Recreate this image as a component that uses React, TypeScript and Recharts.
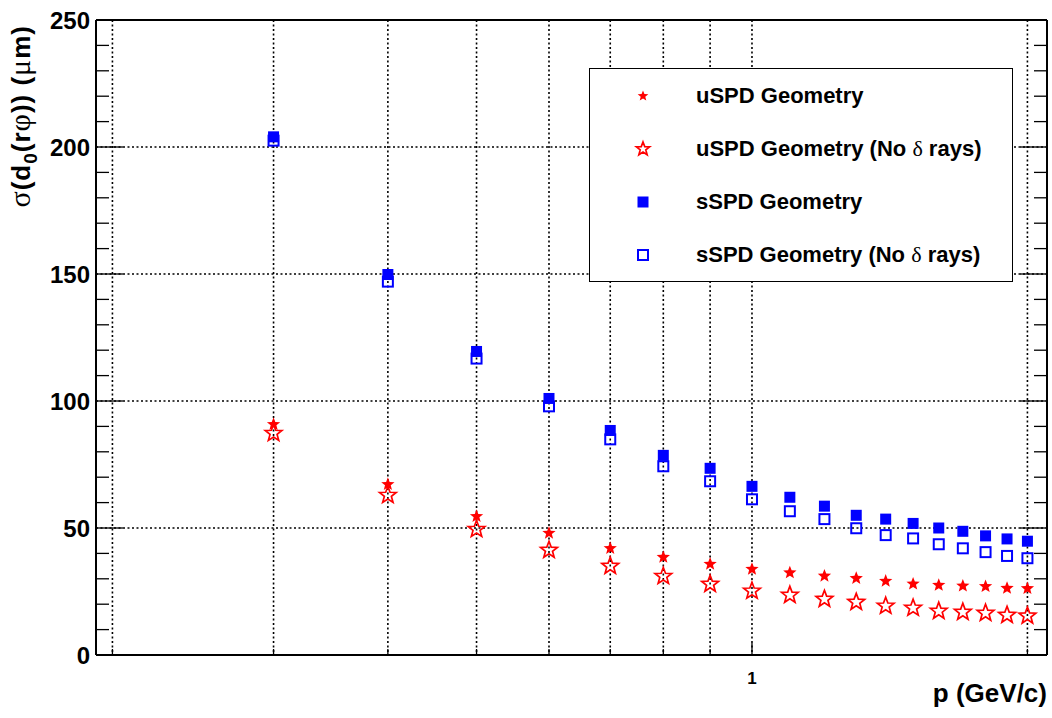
import React from 'react';
import { ScatterChart, Scatter, XAxis, YAxis, CartesianGrid, Legend } from 'recharts';

// momentum bins (GeV/c)
const momentum = [0.3, 0.4, 0.5, 0.6, 0.7, 0.8, 0.9, 1.0, 1.1, 1.2, 1.3, 1.4, 1.5, 1.6, 1.7, 1.8, 1.9, 2.0];

// sigma(d0) in microns
const uspdGeometry = [90.8, 67.2, 54.6, 48.0, 42.0, 38.5, 35.8, 33.8, 32.4, 31.1, 30.2, 29.1, 28.0, 27.5, 27.2, 27.0, 26.3, 26.2];
const uspdNoDelta = [87.3, 62.9, 49.5, 41.3, 35.0, 31.0, 27.9, 25.2, 23.6, 22.0, 20.8, 19.3, 18.5, 17.3, 16.9, 16.5, 15.7, 15.4];
const sspdGeometry = [204.0, 149.8, 119.5, 101.0, 88.4, 78.6, 73.5, 66.4, 62.1, 58.6, 55.0, 53.5, 51.8, 50.0, 48.7, 46.9, 45.7, 44.8];
const sspdNoDelta = [202.5, 147.0, 116.7, 97.9, 84.9, 74.3, 68.4, 61.3, 56.6, 53.5, 49.9, 47.2, 45.9, 43.6, 42.0, 40.5, 39.0, 38.1];

const yTicks = [0, 10, 20, 30, 40, 50, 60, 70, 80, 90, 100, 110, 120, 130, 140, 150, 160, 170, 180, 190, 200, 210, 220, 230, 240, 250];
const yGridValues = [50, 100, 150, 200];
const xTicks = [0.2, 0.3, 0.4, 0.5, 0.6, 0.7, 0.8, 0.9, 1, 2];
const xLabelled = [1];

const RED = '#ff0000';
const BLUE = '#0000ff';
const FONT = '"Liberation Sans", Arial, Helvetica, sans-serif';
const SYMBOL_FONT = '"Liberation Serif", "DejaVu Serif", serif';

type MarkerKind = 'star' | 'openStar' | 'square' | 'openSquare';

const series: { name: string; values: number[]; marker: MarkerKind }[] = [
  { name: 'uSPD Geometry', values: uspdGeometry, marker: 'star' },
  { name: 'uSPD Geometry (No δ rays)', values: uspdNoDelta, marker: 'openStar' },
  { name: 'sSPD Geometry', values: sspdGeometry, marker: 'square' },
  { name: 'sSPD Geometry (No δ rays)', values: sspdNoDelta, marker: 'openSquare' },
];

const toPoints = (values: number[]) => momentum.map((p, i) => ({ p, v: values[i] }));

function starPath(cx: number, cy: number, outer: number, inner: number) {
  const pts: string[] = [];
  for (let k = 0; k < 10; k++) {
    const r = k % 2 === 0 ? outer : inner;
    const a = -Math.PI / 2 + (k * Math.PI) / 5;
    pts.push(`${(cx + r * Math.cos(a)).toFixed(2)},${(cy + r * Math.sin(a)).toFixed(2)}`);
  }
  return `M${pts.join('L')}Z`;
}

const Marker = ({ kind, cx, cy, scale = 1 }: { kind: MarkerKind; cx: number; cy: number; scale?: number }) => {
  if (cx == null || cy == null) return null;
  switch (kind) {
    case 'star':
      return <path d={starPath(cx, cy, 7 * scale, 3 * scale)} fill={RED} />;
    case 'openStar':
      return <path d={starPath(cx, cy, 8.8 * scale, 3.7 * scale)} fill="none" stroke={RED} strokeWidth={1.7} />;
    case 'square':
      return <rect x={cx - 5.5} y={cy - 5.5} width={11} height={11} fill={BLUE} />;
    default:
      return <rect x={cx - 5} y={cy - 5} width={10} height={10} fill="none" stroke={BLUE} strokeWidth={2} />;
  }
};

// ROOT style ticks: drawn inward from the frame
const LeftTick = ({ x, y, payload }: any) => {
  const major = payload.value % 50 === 0;
  return (
    <g>
      <line x1={x} x2={x + (major ? 27 : 13)} y1={y} y2={y} stroke="#000" strokeWidth={1.3} />
      {major && (
        <text x={x - 6} y={y} dy="0.36em" textAnchor="end" fontFamily={FONT} fontWeight="bold" fontSize={24} fill="#000">
          {payload.value}
        </text>
      )}
    </g>
  );
};

const RightTick = ({ x, y, payload }: any) => {
  const major = payload.value % 50 === 0;
  return <line x1={x} x2={x - (major ? 27 : 13)} y1={y} y2={y} stroke="#000" strokeWidth={1.3} />;
};

const BottomTick = ({ x, y, payload }: any) => {
  const len = payload.value === 1 ? 12 : 6;
  return (
    <g>
      <line x1={x} x2={x} y1={y} y2={y - len} stroke="#000" strokeWidth={1.3} />
      {xLabelled.includes(payload.value) && (
        <text x={x} y={y + 29} textAnchor="middle" fontFamily={FONT} fontWeight="bold" fontSize={17} fill="#000">
          {payload.value}
        </text>
      )}
    </g>
  );
};

const TopTick = ({ x, y, payload }: any) => {
  const len = payload.value === 1 ? 12 : 6;
  return <line x1={x} x2={x} y1={y} y2={y + len} stroke="#000" strokeWidth={1.3} />;
};

const YTitle = ({ viewBox }: any) => {
  const top = (viewBox?.y ?? 20) + 5;
  return (
    <text
      transform={`translate(30, ${top}) rotate(-90)`}
      textAnchor="end"
      fontFamily={FONT}
      fontWeight="bold"
      fontSize={26}
      letterSpacing={1}
      fill="#000"
    >
      <tspan fontFamily={SYMBOL_FONT} fontWeight="normal" fontSize={30}>σ</tspan>
      <tspan>(d</tspan>
      <tspan fontSize={19} dy={7}>0</tspan>
      <tspan dy={-7}>(r</tspan>
      <tspan fontFamily={SYMBOL_FONT} fontWeight="normal" fontSize={30}>φ</tspan>
      <tspan>)) (</tspan>
      <tspan fontFamily={SYMBOL_FONT} fontWeight="normal" fontSize={30}>μ</tspan>
      <tspan>m)</tspan>
    </text>
  );
};

const XTitle = ({ viewBox }: any) => {
  const right = (viewBox?.x ?? 96) + (viewBox?.width ?? 951);
  return (
    <text x={right} y={702} textAnchor="end" fontFamily={FONT} fontWeight="bold" fontSize={26} fill="#000">
      p (GeV/c)
    </text>
  );
};

const LegendLabel = ({ text }: { text: string }) => {
  const parts = text.split('δ');
  if (parts.length === 1) return <>{text}</>;
  return (
    <>
      {parts[0]}
      <span style={{ fontFamily: SYMBOL_FONT, fontWeight: 'normal' }}>δ</span>
      {parts[1]}
    </>
  );
};

const LegendBox = () => (
  <div
    style={{
      width: 424,
      height: 214,
      boxSizing: 'border-box',
      border: '1.5px solid #000',
      background: '#fff',
    }}
  >
    {series.map((s) => (
      <div key={s.name} style={{ display: 'flex', alignItems: 'center', height: 53 }}>
        <svg width={106} height={30} style={{ flex: 'none' }}>
          <Marker kind={s.marker} cx={53} cy={15} scale={0.8} />
        </svg>
        <span style={{ fontFamily: FONT, fontWeight: 'bold', fontSize: 22, color: '#000', whiteSpace: 'nowrap' }}>
          <LegendLabel text={s.name} />
        </span>
      </div>
    ))}
  </div>
);

export default function App() {
  return (
    <div style={{ position: 'absolute', left: 0, top: 0, background: '#fff' }}>
      <ScatterChart width={1052} height={718} margin={{ top: 0, right: 0, bottom: 0, left: 0 }}>
        <CartesianGrid
          horizontalValues={yGridValues}
          verticalValues={xTicks}
          stroke="#000"
          strokeWidth={1.6}
          strokeDasharray="2 2.5"
        />
        <XAxis
          dataKey="p"
          type="number"
          scale="log"
          domain={[0.1919, 2.101]}
          allowDataOverflow
          ticks={xTicks}
          interval={0}
          height={63}
          tickSize={0}
          tickMargin={0}
          tickLine={false}
          axisLine={{ stroke: '#000', strokeWidth: 2 }}
          tick={<BottomTick />}
          label={{ content: <XTitle /> }}
        />
        <XAxis
          xAxisId="top"
          orientation="top"
          type="number"
          scale="log"
          domain={[0.1919, 2.101]}
          allowDataOverflow
          ticks={xTicks}
          interval={0}
          height={20}
          tickSize={0}
          tickMargin={0}
          tickLine={false}
          axisLine={{ stroke: '#000', strokeWidth: 2 }}
          tick={<TopTick />}
        />
        <YAxis
          dataKey="v"
          type="number"
          domain={[0, 250]}
          allowDataOverflow
          ticks={yTicks}
          interval={0}
          width={96}
          tickSize={0}
          tickMargin={0}
          tickLine={false}
          axisLine={{ stroke: '#000', strokeWidth: 2 }}
          tick={<LeftTick />}
          label={{ content: <YTitle /> }}
        />
        <YAxis
          yAxisId="right"
          orientation="right"
          type="number"
          domain={[0, 250]}
          allowDataOverflow
          ticks={yTicks}
          interval={0}
          width={5}
          tickSize={0}
          tickMargin={0}
          tickLine={false}
          axisLine={{ stroke: '#000', strokeWidth: 2 }}
          tick={<RightTick />}
        />
        {series.map((s) => (
          <Scatter
            key={s.name}
            name={s.name}
            data={toPoints(s.values)}
            isAnimationActive={false}
            shape={(props: any) => <Marker kind={s.marker} cx={props.cx} cy={props.cy} />}
          />
        ))}
        <Legend
          layout="vertical"
          align="center"
          verticalAlign="middle"
          wrapperStyle={{ position: 'absolute', left: 589, top: 68, width: 424, height: 214 }}
          content={() => <LegendBox />}
        />
      </ScatterChart>
    </div>
  );
}
